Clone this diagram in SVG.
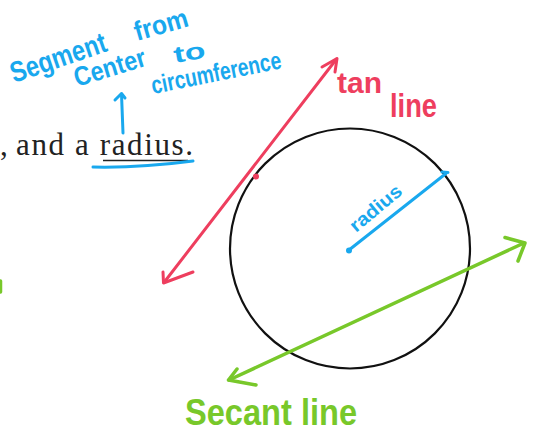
<svg xmlns="http://www.w3.org/2000/svg" width="539" height="435" viewBox="0 0 539 435">
  <style>
    .hand { font-family: "Liberation Sans", "DejaVu Sans", sans-serif; font-weight: bold; }
    .blue { fill: #19a8ee; }
    .red { fill: #ee3e5e; }
    .green { fill: #78c82a; }
    .sb { stroke: #19a8ee; fill: none; stroke-width: 3; stroke-linecap: round; stroke-linejoin: round; }
    .sr { stroke: #ee3e5e; fill: none; stroke-width: 3; stroke-linecap: round; stroke-linejoin: round; }
    .sg { stroke: #78c82a; fill: none; stroke-width: 3.5; stroke-linecap: round; stroke-linejoin: round; }
    .print { font-family: "Liberation Serif", "DejaVu Serif", serif; font-size: 31px; fill: #222; }
  </style>
  <rect width="539" height="435" fill="#ffffff"/>

  <g id="printed-text">
    <text class="print" x="0" y="155">,</text>
    <text class="print" x="16" y="155" textLength="177" lengthAdjust="spacing">and a radius.</text>
    <line x1="103" y1="160.5" x2="188" y2="160.5" stroke="#222" stroke-width="1.5"/>
  </g>

  <g id="circle">
    <circle cx="350" cy="248.5" r="120" fill="none" stroke="#111" stroke-width="2.2"/>
  </g>

  <g id="connectors">
    <path class="sb" d="M93,167 Q140,168 193,161"/>
    <line class="sb" x1="123" y1="133" x2="121.5" y2="94"/>
    <polyline class="sb" points="115,100 121.5,93.5 125,98"/>
    <line class="sb" x1="349" y1="250" x2="446" y2="173.5"/>
    <line class="sb" x1="442" y1="172" x2="448" y2="172.5"/>
    <circle cx="349" cy="250.5" r="3" fill="#19a8ee"/>
    <line class="sr" x1="164" y1="282.5" x2="336.5" y2="59"/>
    <polyline class="sr" points="163,272 163.5,283 193,272"/>
    <polyline class="sr" points="322,67 337,58.5 335,72"/>
    <circle cx="256" cy="176.5" r="3" fill="#ee3e5e"/>
    <line class="sg" x1="229" y1="380" x2="524" y2="243"/>
    <polyline class="sg" points="237,369 228.5,380 256,385"/>
    <polyline class="sg" points="505,237.5 525,243 518,261"/>
    <line class="sg" x1="0.5" y1="281" x2="0.5" y2="292" stroke-width="2"/>
  </g>

  <g id="radius-label">
    <text class="hand blue" font-size="19" x="356" y="233" transform="rotate(-40 356 233)" textLength="62" lengthAdjust="spacingAndGlyphs">radius</text>
  </g>

  <g id="radius-note">
    <text class="hand blue" font-size="29" x="14" y="83" transform="rotate(-18.8 14 83)" textLength="100" lengthAdjust="spacingAndGlyphs">Segment</text>
    <text class="hand blue" font-size="27" x="137" y="41" transform="rotate(-16 137 41)" textLength="55" lengthAdjust="spacingAndGlyphs">from</text>
    <text class="hand blue" font-size="27" x="77" y="87" transform="rotate(-17 77 87)" textLength="74" lengthAdjust="spacingAndGlyphs">Center</text>
    <text class="hand blue" font-size="23" x="175" y="63" transform="rotate(-10 175 63)" textLength="32" lengthAdjust="spacingAndGlyphs">to</text>
    <text class="hand blue" font-size="25" x="153" y="94" transform="rotate(-11.3 153 94)" textLength="132" lengthAdjust="spacingAndGlyphs">circumference</text>
  </g>

  <g id="tan-label">
    <text class="hand red" font-size="30" x="337" y="93" textLength="45" lengthAdjust="spacingAndGlyphs">tan</text>
    <text class="hand red" font-size="33" x="390" y="117" textLength="47" lengthAdjust="spacingAndGlyphs">line</text>
  </g>

  <g id="secant-label">
    <text class="hand green" font-size="36" x="185" y="425" textLength="172" lengthAdjust="spacingAndGlyphs">Secant line</text>
  </g>
</svg>
